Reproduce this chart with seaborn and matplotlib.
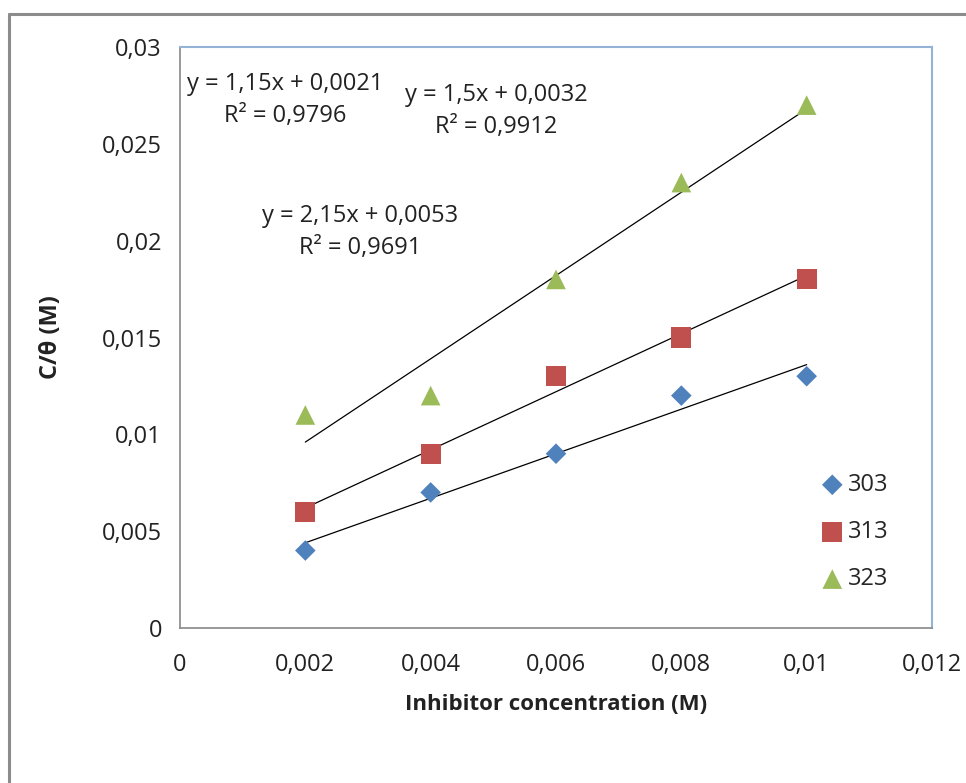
import numpy as np
import pandas as pd
import matplotlib
matplotlib.use('Agg')
import matplotlib.pyplot as plt
from matplotlib.lines import Line2D
from matplotlib.ticker import FuncFormatter, MultipleLocator
import seaborn as sns

# Datos
concentracion = [0.002, 0.004, 0.006, 0.008, 0.010]
temperaturas = ['303', '313', '323']
c_theta_303 = [0.004, 0.007, 0.009, 0.012, 0.013]
c_theta_313 = [0.006, 0.009, 0.013, 0.015, 0.018]
c_theta_323 = [0.011, 0.012, 0.018, 0.023, 0.027]

series = {'303': c_theta_303, '313': c_theta_313, '323': c_theta_323}
df = pd.DataFrame([(t, x, y) for t in temperaturas
                   for x, y in zip(concentracion, series[t])],
                  columns=['T', 'x', 'y'])

colores = {'303': '#4F81BD', '313': '#C0504D', '323': '#9BBB59'}
marcadores = {'303': 'D', '313': 's', '323': '^'}
tamanos = {'303': 110, '313': 210, '323': 200}
# posicion (centro) de cada ecuacion en coordenadas de datos
pos_ecuacion = {'303': (0.00168, 0.02726), '313': (0.00504, 0.0267), '323': (0.00287, 0.02045)}

sns.set_style('white')
plt.rcParams['font.family'] = ['Open Sans', 'DejaVu Sans']

fig = plt.figure(figsize=(9.66, 7.83), dpi=100)
ax = fig.add_axes([180 / 966, 1 - 628 / 783, (932 - 180) / 966, (628 - 47) / 783])


def coma(v, pos=None):
    if abs(v) < 1e-12:
        return '0'
    return f'{v:g}'.replace('.', ',')


for t in temperaturas:
    d = df[df['T'] == t]
    sns.scatterplot(data=d, x='x', y='y', ax=ax, marker=marcadores[t],
                    color=colores[t], s=tamanos[t], edgecolor='none',
                    label=t, zorder=3)
    sns.regplot(data=d, x='x', y='y', ax=ax, scatter=False, ci=None,
                truncate=True, color='black', line_kws={'lw': 0.9, 'zorder': 2})
    # ecuacion de la recta (estilo Excel)
    m, b = np.polyfit(d['x'], d['y'], 1)
    r2 = np.corrcoef(d['x'], d['y'])[0, 1] ** 2
    texto = f'y = {coma(round(m, 4))}x + {coma(round(b, 4))}\nR² = {r2:.4f}'.replace('.', ',')
    ax.text(*pos_ecuacion[t], texto, ha='center', va='center', fontsize=17,
            color='#222222', linespacing=1.42)

ax.set_xlim(0, 0.012)
ax.set_ylim(0, 0.03)
ax.xaxis.set_major_locator(MultipleLocator(0.002))
ax.yaxis.set_major_locator(MultipleLocator(0.005))
ax.xaxis.set_major_formatter(FuncFormatter(coma))
ax.yaxis.set_major_formatter(FuncFormatter(coma))
ax.tick_params(axis='both', labelsize=17, colors='#222222', direction='out',
               length=6, width=1)
ax.tick_params(axis='x', pad=12)
ax.tick_params(axis='y', pad=7)
ax.tick_params(axis='both', color='#888888')

ax.set_xlabel('Inhibitor concentration (M)', fontsize=16, fontweight='bold',
              color='#222222', labelpad=12)
ax.set_ylabel('C/θ (M)', fontsize=17, fontweight='bold', color='#222222',
              labelpad=28)

for lado in ['left', 'bottom']:
    ax.spines[lado].set_color('#888888')
    ax.spines[lado].set_linewidth(1.2)
for lado in ['top', 'right']:
    ax.spines[lado].set_color('#95B3D7')
    ax.spines[lado].set_linewidth(1.5)

ax.legend(loc='center left', bbox_to_anchor=(0.836, 0.165), frameon=False,
          fontsize=17, labelspacing=0.98, handletextpad=0.05, handlelength=1.2,
          borderaxespad=0)

# marco exterior del grafico
fig.add_artist(Line2D([9 / 966, 9 / 966], [0, 1 - 14 / 783], color='#8c8c8c', lw=2.2))
fig.add_artist(Line2D([9 / 966, 1], [1 - 14 / 783, 1 - 14 / 783], color='#8c8c8c', lw=2.2))

fig.savefig('out.png', dpi=100)
